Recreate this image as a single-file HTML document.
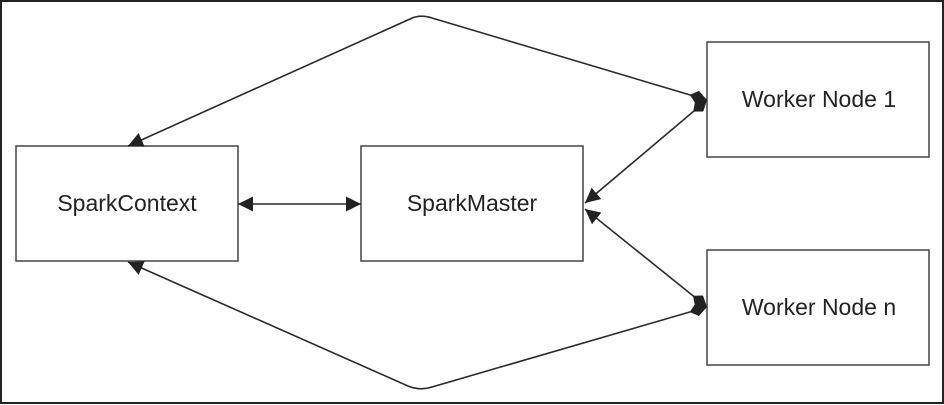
<!DOCTYPE html>
<html><head><meta charset="utf-8"><style>
html,body{margin:0;padding:0;background:#fff;}
svg{display:block;}
text{font-family:"Liberation Sans",sans-serif;font-size:23px;fill:#222;}
</style></head><body>
<svg width="944" height="405" viewBox="0 0 944 405" xmlns="http://www.w3.org/2000/svg">
<defs>
<marker id="a" viewBox="0 0 10 10" refX="10" refY="5" markerWidth="15" markerHeight="15" markerUnits="userSpaceOnUse" orient="auto-start-reverse">
<path d="M0,0 L10,5 L0,10 z" fill="#222"/></marker>
<marker id="d" viewBox="0 0 14 10" refX="14" refY="5" markerWidth="18" markerHeight="14" markerUnits="userSpaceOnUse" orient="auto-start-reverse">
<path d="M0,5 L6,0 L14,5 L6,10 z" fill="#222"/></marker>
</defs>
<rect x="1" y="1" width="942" height="402" fill="none" stroke="#222" stroke-width="2"/>
<g fill="#fff" stroke="#444" stroke-width="1.5">
<rect x="16" y="146" width="222" height="115"/>
<rect x="361" y="146" width="222" height="115"/>
<rect x="707" y="42" width="222" height="115"/>
<rect x="707" y="250" width="222" height="115"/>
</g>
<text x="127" y="211" text-anchor="middle">SparkContext</text>
<text x="472" y="211" text-anchor="middle">SparkMaster</text>
<text x="819" y="107" text-anchor="middle">Worker Node 1</text>
<text x="819" y="315" text-anchor="middle">Worker Node n</text>
<g fill="none" stroke="#2a2a2a" stroke-width="1.6">
<line x1="238" y1="204" x2="361" y2="204" marker-start="url(#a)" marker-end="url(#a)"/>
<line x1="585" y1="203" x2="707" y2="100" marker-start="url(#a)" marker-end="url(#d)"/>
<line x1="585" y1="209" x2="707" y2="307" marker-start="url(#a)" marker-end="url(#d)"/>
<path d="M128,146 L410,19 Q420,14 432,18 L707,100" marker-start="url(#a)" marker-end="url(#d)"/>
<path d="M128,262 L408,386 Q420,391 432,387 L707,307" marker-start="url(#a)" marker-end="url(#d)"/>
</g>
</svg>
</body></html>
